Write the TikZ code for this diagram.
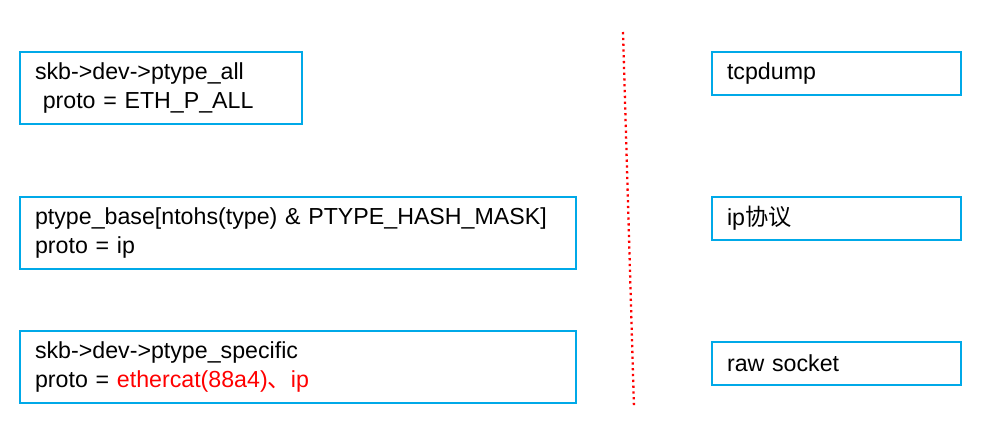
\documentclass[tikz,border=0pt]{standalone}
\usepackage{fontspec}
\setmainfont{Liberation Sans}
\newfontfamily\cjk{Noto Sans CJK SC}
\usepackage{tikz}
\definecolor{boxblue}{RGB}{0,169,232}
\definecolor{protored}{RGB}{255,0,0}
\tikzset{
	listbox/.style={draw=boxblue, line width=1.1pt, align=left, inner xsep=0.3cm,
		font=\fontsize{13.2}{16.2}\selectfont, minimum height=1.44cm},
	userbox/.style={listbox, minimum height=0.86cm, text width=4.38cm}
}

\begin{document}
\begin{tikzpicture}[x=0.02cm, y=-0.02cm]
				\useasboundingbox (0, 0) rectangle (998, 440);
				% Lists on the left:
				\node[listbox, text width=5.04cm](ptall) at (161, 88){skb->dev->ptype\_all\\ \ proto = ETH\_P\_ALL};
				\node[listbox, text width=10.52cm](ptbase) at (298, 233){ptype\_base[ntohs(type) \& PTYPE\_HASH\_MASK]\\proto = ip};
				\node[listbox, text width=10.52cm](ptspec) at (298, 367){skb->dev->ptype\_specific\\proto = \textcolor{protored}{ethercat(88a4){\cjk 、}ip}};
				% Divider:
				\coordinate (divtop) at (623, 32);
				\coordinate (divbot) at (634, 408);
				\draw[protored, dotted, line width=1.3pt] (divtop) -- (divbot);
				% Users on the right:
				\node[userbox](tcpdump) at (836.5, 73.5){tcpdump};
				\node[userbox](ipproto) at (836.5, 218.5){ip{\cjk 协议}};
				\node[userbox](rawsock) at (836.5, 363.5){raw socket};
			\end{tikzpicture}
\end{document}
